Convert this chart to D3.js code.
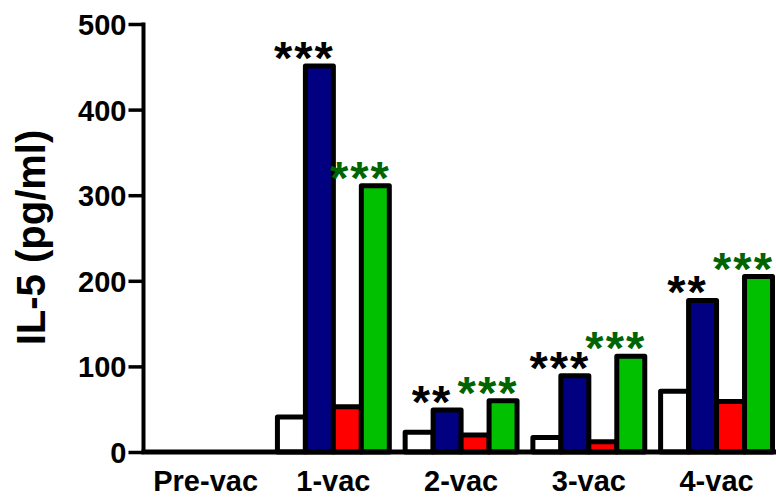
<!DOCTYPE html>
<html>
<head>
<meta charset="utf-8">
<script src="https://cdn.jsdelivr.net/npm/d3@7"></script>
<style>
  html, body { margin: 0; padding: 0; background: #ffffff; }
  svg { display: block; }
  text { font-family: "Liberation Sans", Arial, sans-serif; font-weight: bold; }
</style>
</head>
<body>
<svg id="chart" width="776" height="497"></svg>
<script>
// IL-5 concentration after each vaccination, four treatment series per time point
const groups = ["Pre-vac", "1-vac", "2-vac", "3-vac", "4-vac"];
const seriesWhite = [0, 41, 23, 17, 71];
const seriesBlue  = [0, 451, 49, 89, 177];
const seriesRed   = [0, 53, 20, 12, 59];
const seriesGreen = [0, 311, 60, 112, 205];
const seriesFills = ["#ffffff", "#000080", "#ff0000", "#00c000"];
const yTicks = [0, 100, 200, 300, 400, 500];
// significance marks above the blue and green bars
const sigBlue  = ["", "***", "**", "***", "**"];
const sigGreen = ["", "***", "***", "***", "***"];
const sigColors = ["#000000", "#006400"];

const series = [seriesWhite, seriesBlue, seriesRed, seriesGreen];

const svg = d3.select("#chart");

const y = d3.scaleLinear().domain([0, 500]).range([452, 24]);
const x = d3.scaleBand().domain(groups).range([149.7, 772.5])
  .paddingInner(0.124).paddingOuter(0);
const sub = d3.scaleBand().domain(d3.range(series.length))
  .range([0, x.bandwidth()]).padding(0);

// bars
const g = svg.append("g");
groups.forEach((grp, gi) => {
  series.forEach((vals, si) => {
    g.append("rect")
      .attr("x", x(grp) + sub(si))
      .attr("y", y(vals[gi]))
      .attr("width", sub.bandwidth())
      .attr("height", y(0) - y(vals[gi]))
      .attr("fill", seriesFills[si])
      .attr("stroke", "#000")
      .attr("stroke-width", 5)
      .attr("stroke-linejoin", "round");
  });
});

// y axis
const yAxis = d3.axisLeft(y).tickValues(yTicks).tickSize(15).tickSizeOuter(0).tickPadding(2);
const ya = svg.append("g").attr("transform", "translate(143.5,0)").call(yAxis);
ya.select(".domain").remove();
ya.selectAll(".tick line").attr("stroke", "#000").attr("stroke-width", 3.5);
ya.selectAll(".tick text")
  .attr("font-size", 29).attr("fill", "#000")
  .attr("dy", null)
  .attr("y", 10.4);
svg.append("line")
  .attr("x1", 143.5).attr("x2", 143.5)
  .attr("y1", y(500) - 1.5).attr("y2", y(0) + 2)
  .attr("stroke", "#000").attr("stroke-width", 4);

// x axis
svg.append("line")
  .attr("x1", 141.5).attr("x2", 776)
  .attr("y1", y(0)).attr("y2", y(0))
  .attr("stroke", "#000").attr("stroke-width", 5);
const xAxis = d3.axisBottom(x).tickSize(0).tickPadding(0);
const xa = svg.append("g").call(xAxis);
xa.select(".domain").remove();
xa.selectAll(".tick text")
  .attr("font-size", 29).attr("fill", "#000")
  .attr("dy", null).attr("y", 491);

// y title
svg.append("text")
  .attr("transform", "translate(45,237.5) rotate(-90)")
  .attr("text-anchor", "middle")
  .attr("font-size", 40)
  .attr("fill", "#000")
  .text("IL-5 (pg/ml)");

// significance marks
const sigSpacing = 2;
function drawSig(labels, vals, si, color) {
  groups.forEach((grp, gi) => {
    if (!labels[gi]) return;
    svg.append("text")
      .attr("x", x(grp) + sub(si) + sub.bandwidth() / 2 - 16 + sigSpacing / 2)
      .attr("y", y(vals[gi]) + 8)
      .attr("text-anchor", "middle")
      .attr("font-size", 47)
      .attr("letter-spacing", sigSpacing)
      .attr("fill", color)
      .text(labels[gi]);
  });
}
drawSig(sigBlue, seriesBlue, 1, sigColors[0]);
drawSig(sigGreen, seriesGreen, 3, sigColors[1]);
</script>
</body>
</html>
